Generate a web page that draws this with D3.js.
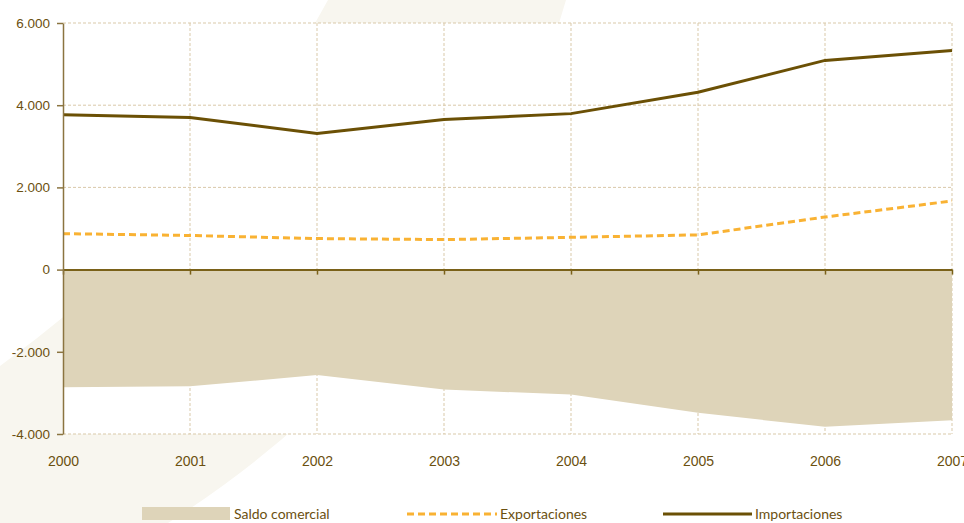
<!DOCTYPE html>
<html>
<head>
<meta charset="utf-8">
<script src="https://cdn.jsdelivr.net/npm/d3@7"></script>
<style>
    body { margin: 0; background: #fff; }
    svg { display: block; font-family: Lato, "Open Sans", sans-serif; }
    .axis text { fill: #6b5010; font-size: 13.5px; }
    .x-axis text { font-size: 14px; }
    .legend text { fill: #6b5010; font-size: 14px; }
</style>
</head>
<body>
<svg id="chart"></svg>
<script>
// Datos (millones)
const years = [2000, 2001, 2002, 2003, 2004, 2005, 2006, 2007];
const importaciones = [3770, 3700, 3310, 3650, 3795, 4315, 5090, 5330];
const exportaciones = [875, 830, 755, 730, 785, 845, 1280, 1670];
const saldo = [-2865, -2840, -2565, -2920, -3040, -3485, -3825, -3665];
const yTicks = [-4000, -2000, 0, 2000, 4000, 6000];
const legendLabels = ['Saldo comercial', 'Exportaciones', 'Importaciones'];

class TradeChart {
    constructor(_config) {
        this.config = {
            parentElement: _config.parentElement,
            containerWidth: _config.containerWidth || 964,
            containerHeight: _config.containerHeight || 523,
            margin: { top: 23, right: 12, bottom: 89, left: 63 }
        }
        this.initVis();
    }

    initVis() {
        let vis = this;

        vis.width = vis.config.containerWidth - vis.config.margin.left - vis.config.margin.right;
        vis.height = vis.config.containerHeight - vis.config.margin.top - vis.config.margin.bottom;

        vis.svg = d3.select(vis.config.parentElement)
            .attr('width', vis.config.containerWidth)
            .attr('height', vis.config.containerHeight);

        // light watermark swoosh behind the chart
        vis.svg.append('path')
            .attr('d', 'M328,0 L566,0 Q470,330 168,523 L0,523 L0,366 Q215,210 328,0 Z')
            .attr('fill', '#f8f6ef');

        vis.xScale = d3.scaleLinear()
            .domain([years[0], years[years.length - 1]])
            .range([0, vis.width]);

        vis.yScale = d3.scaleLinear()
            .domain([-4000, 6000])
            .range([vis.height, 0]);

        const locale = d3.formatLocale({ decimal: ',', thousands: '.', grouping: [3], currency: ['', ''], minus: '-' });
        vis.fmt = locale.format(',d');

        vis.chart = vis.svg.append('g')
            .attr('transform', `translate(${vis.config.margin.left},${vis.config.margin.top})`);

        vis.chart.append('rect')
            .attr('width', vis.width)
            .attr('height', vis.height)
            .attr('fill', '#fff');

        vis.renderVis();
    }

    renderVis() {
        let vis = this;
        const gridColor = '#d9c9a9';
        const dashGrid = '3,2';

        // grid
        vis.chart.append('g').selectAll('line.vgrid')
            .data(years.slice(1))
            .join('line')
            .attr('x1', d => vis.xScale(d)).attr('x2', d => vis.xScale(d))
            .attr('y1', 0).attr('y2', vis.height)
            .attr('stroke', gridColor).attr('stroke-dasharray', dashGrid);

        vis.chart.append('g').selectAll('line.hgrid')
            .data(yTicks.filter(d => d !== 0))
            .join('line')
            .attr('x1', 0).attr('x2', vis.width)
            .attr('y1', d => vis.yScale(d)).attr('y2', d => vis.yScale(d))
            .attr('stroke', gridColor).attr('stroke-dasharray', dashGrid);

        // saldo area
        const area = d3.area()
            .x((d, i) => vis.xScale(years[i]))
            .y0(vis.yScale(0))
            .y1(d => vis.yScale(d));

        vis.chart.append('path')
            .datum(saldo)
            .attr('d', area)
            .attr('fill', '#ded4b9');

        // zero line with ticks
        const zeroAxis = d3.axisBottom(vis.xScale)
            .tickValues(years)
            .tickSize(5)
            .tickSizeOuter(0)
            .tickFormat('');

        vis.chart.append('g')
            .attr('class', 'axis zero-axis')
            .attr('transform', `translate(0,${vis.yScale(0)})`)
            .call(zeroAxis)
            .call(g => g.select('.domain').attr('stroke', '#7a6118').attr('stroke-width', 2))
            .call(g => g.selectAll('.tick line').attr('stroke', '#7a6118').attr('stroke-width', 1.5));

        // lines
        const line = d3.line()
            .x((d, i) => vis.xScale(years[i]))
            .y(d => vis.yScale(d));

        vis.chart.append('path')
            .datum(exportaciones)
            .attr('d', line)
            .attr('fill', 'none')
            .attr('stroke', '#f9b233')
            .attr('stroke-width', 3)
            .attr('stroke-dasharray', '7,4');

        vis.chart.append('path')
            .datum(importaciones)
            .attr('d', line)
            .attr('fill', 'none')
            .attr('stroke', '#6b5005')
            .attr('stroke-width', 3);

        // y axis
        const yAxis = d3.axisLeft(vis.yScale)
            .tickValues(yTicks)
            .tickSize(6)
            .tickSizeOuter(0)
            .tickPadding(7)
            .tickFormat(vis.fmt);

        vis.chart.append('g')
            .attr('class', 'axis y-axis')
            .call(yAxis)
            .call(g => g.select('.domain').attr('stroke', '#8b7440').attr('stroke-width', 1.5))
            .call(g => g.selectAll('.tick line').attr('stroke', '#8b7440').attr('stroke-width', 1.5))
            .call(g => g.selectAll('.tick text').attr('font-family', null).style('fill', '#6b5010'));

        // x axis labels
        const xAxis = d3.axisBottom(vis.xScale)
            .tickValues(years)
            .tickSize(0)
            .tickPadding(22)
            .tickFormat(d3.format('d'));

        vis.chart.append('g')
            .attr('class', 'axis x-axis')
            .attr('transform', `translate(0,${vis.height})`)
            .call(xAxis)
            .call(g => g.select('.domain').remove())
            .call(g => g.selectAll('.tick text').attr('font-family', null).style('fill', '#6b5010'));

        // legend
        const legend = vis.svg.append('g').attr('class', 'legend');
        const legendY = 513;

        legend.append('rect')
            .attr('x', 142).attr('y', legendY - 6)
            .attr('width', 88).attr('height', 13)
            .attr('fill', '#ded4b9');
        legend.append('text').attr('x', 234).attr('y', legendY + 6).text(legendLabels[0]);

        legend.append('line')
            .attr('x1', 407).attr('x2', 497)
            .attr('y1', legendY + 1).attr('y2', legendY + 1)
            .attr('stroke', '#f9b233').attr('stroke-width', 3).attr('stroke-dasharray', '7,4');
        legend.append('text').attr('x', 500).attr('y', legendY + 6).text(legendLabels[1]);

        legend.append('line')
            .attr('x1', 663).attr('x2', 752)
            .attr('y1', legendY + 1).attr('y2', legendY + 1)
            .attr('stroke', '#6b5005').attr('stroke-width', 3);
        legend.append('text').attr('x', 755).attr('y', legendY + 6).text(legendLabels[2]);
    }
}

new TradeChart({ parentElement: '#chart' });
</script>
</body>
</html>
